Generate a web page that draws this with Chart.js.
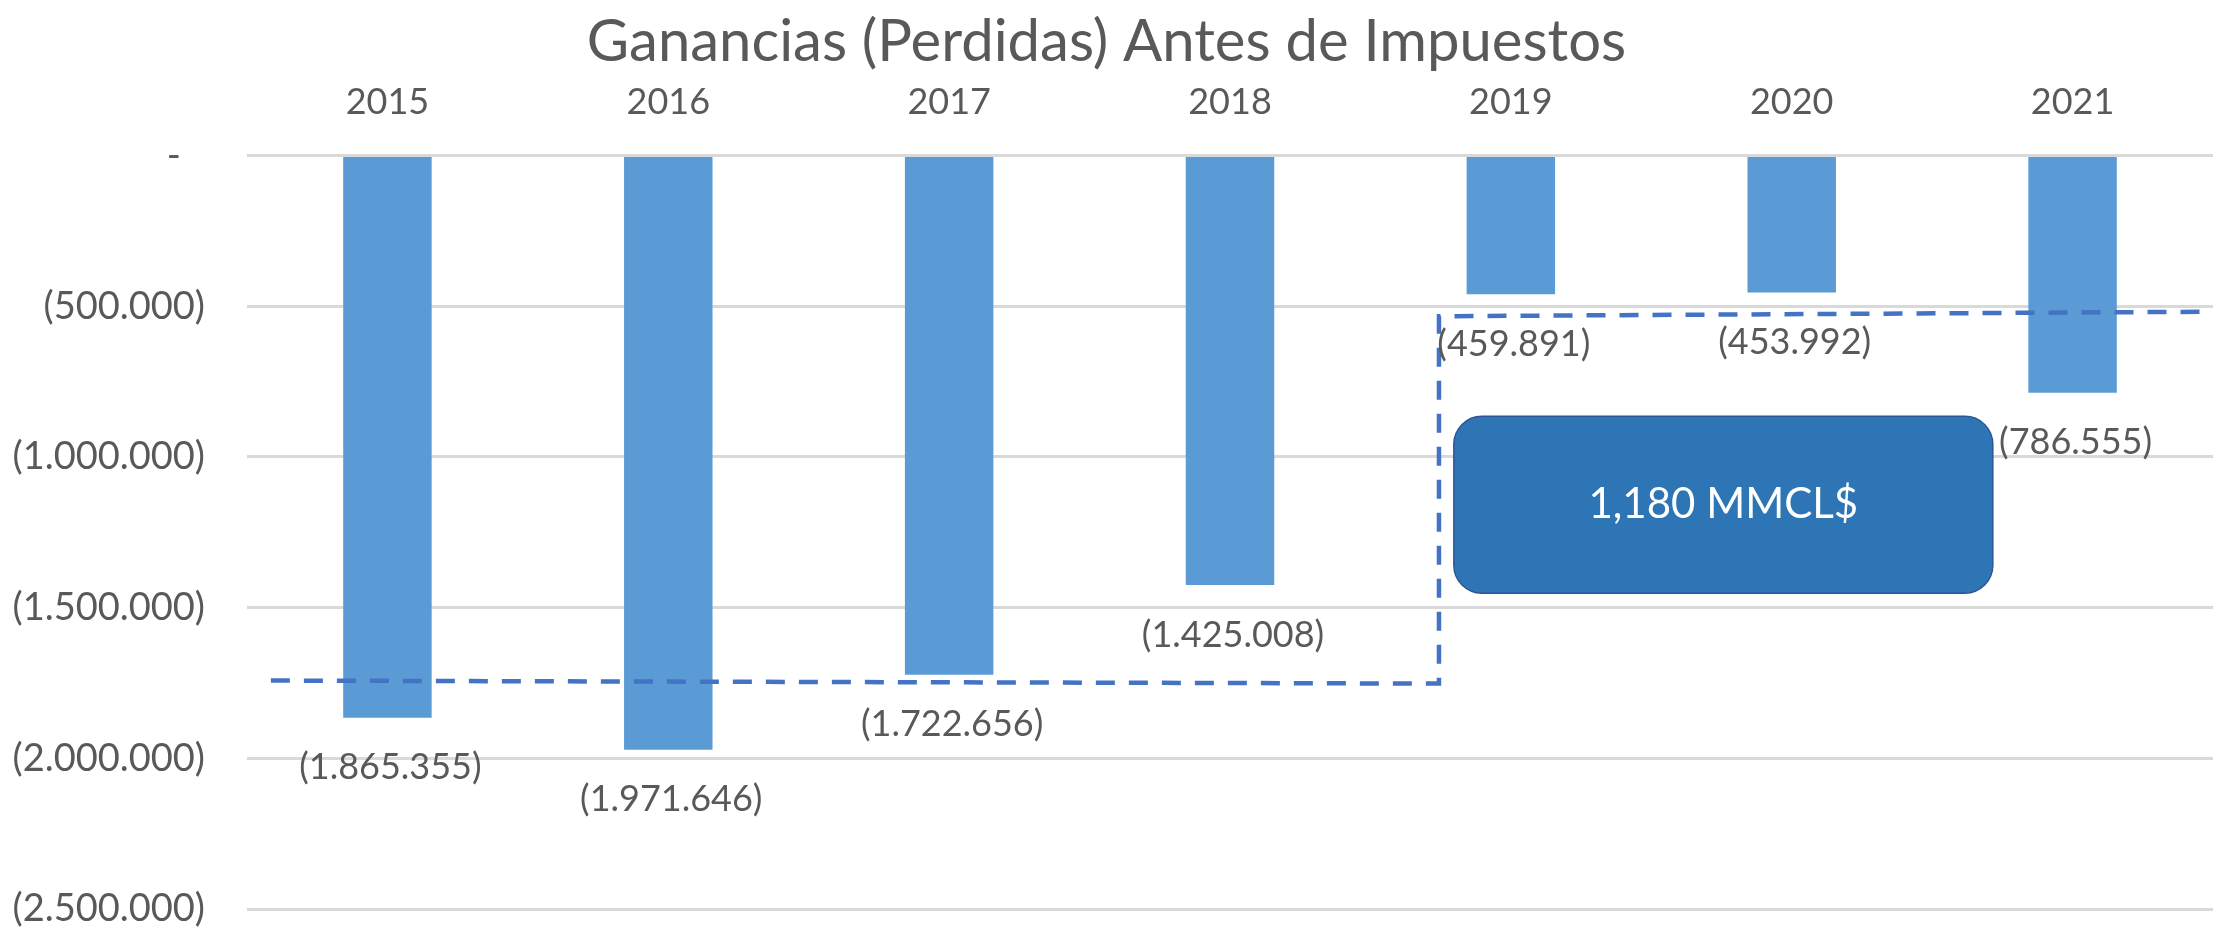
<!DOCTYPE html>
<html>
<head>
<meta charset="utf-8">
<script src="https://cdn.jsdelivr.net/npm/chart.js@4.4.1/dist/chart.umd.min.js"></script>
<style>
  html, body { margin: 0; padding: 0; background: #fff; }
  canvas { display: block; }
</style>
</head>
<body>
<canvas id="chartGanancias" width="2213" height="928"></canvas>
<script>
// datos
const anios = ["2015", "2016", "2017", "2018", "2019", "2020", "2021"];
const ganancias = [-1865355, -1971646, -1722656, -1425008, -459891, -453992, -786555];
const ticksY = [0, -500000, -1000000, -1500000, -2000000, -2500000];

// linea de promedios (posicion x en indice de categoria)
const promedioX = [-0.415, 3.744, 3.744, 6.5];
const promedioY = [-1742000, -1752000, -533000, -518000];

const textoCaja = "1,180 MMCL$";

const gris = "#595959";
const fuente = "Lato, 'Open Sans', sans-serif";

function formatoMiles(v) {
    if (v === 0) return "-  \u2009";
    const s = Math.abs(v).toString().replace(/\B(?=(\d{3})+(?!\d))/g, ".");
    return v < 0 ? "(" + s + ")" : s;
}

// etiquetas de datos bajo cada barra
const etiquetasBarras = {
    id: "etiquetasBarras",
    afterDatasetsDraw(chart) {
        const ctx = chart.ctx;
        const meta = chart.getDatasetMeta(1);
        ctx.save();
        ctx.font = "36px " + fuente;
        ctx.fillStyle = gris;
        ctx.textAlign = "center";
        ctx.textBaseline = "middle";
        meta.data.forEach((bar, i) => {
            ctx.fillText(formatoMiles(ganancias[i]), bar.x + 3, bar.y + 50);
        });
        ctx.restore();
    }
};

// cuadro con la diferencia
const cajaDiferencia = {
    id: "cajaDiferencia",
    afterDraw(chart) {
        const ctx = chart.ctx;
        const sx = chart.scales.x2, sy = chart.scales.y;
        const x1 = sx.getPixelForValue(3.797), x2 = sx.getPixelForValue(5.716);
        const y1 = sy.getPixelForValue(-865000), y2 = sy.getPixelForValue(-1452000);
        ctx.save();
        ctx.beginPath();
        ctx.roundRect(x1, y1, x2 - x1, y2 - y1, 28);
        ctx.fillStyle = "#2E75B6";
        ctx.fill();
        ctx.lineWidth = 1.5;
        ctx.strokeStyle = "#2F5597";
        ctx.stroke();
        ctx.font = "42px " + fuente;
        ctx.fillStyle = "#ffffff";
        ctx.textAlign = "center";
        ctx.textBaseline = "middle";
        ctx.fillText(textoCaja, (x1 + x2) / 2, (y1 + y2) / 2);
        ctx.restore();
    }
};

const ctx = document.getElementById("chartGanancias").getContext("2d");
new Chart(ctx, {
    type: "bar",
    data: {
        labels: anios,
        datasets: [
            {
                type: "line",
                label: "Promedio",
                xAxisID: "x2",
                data: promedioX.map((x, i) => ({ x: x, y: promedioY[i] })),
                borderColor: "#4472C4",
                borderWidth: 4.5,
                borderDash: [19, 14],
                pointRadius: 0,
                fill: false,
                tension: 0,
                order: 0
            },
            {
                type: "bar",
                label: "Ganancias (Perdidas) Antes de Impuestos",
                data: ganancias,
                backgroundColor: "#5B9BD5",
                grouped: false,
                categoryPercentage: 1,
                barPercentage: 0.315,
                order: 1
            }
        ]
    },
    plugins: [etiquetasBarras, cajaDiferencia],
    options: {
        responsive: false,
        animation: false,
        layout: { padding: { top: 0, right: 0, bottom: 19, left: 0 } },
        plugins: {
            legend: { display: false },
            tooltip: { enabled: false },
            title: {
                display: true,
                text: "Ganancias (Perdidas) Antes de Impuestos",
                color: gris,
                font: { family: fuente, size: 58, weight: "normal", lineHeight: 1.2 },
                padding: { top: 7, bottom: 0 }
            }
        },
        scales: {
            x: {
                type: "category",
                position: "top",
                offset: true,
                grid: { display: false, drawTicks: false },
                border: { display: false },
                ticks: { color: gris, font: { family: fuente, size: 36 }, padding: 32 },
                afterFit: (scale) => { scale.height = 79; }
            },
            x2: {
                type: "linear",
                display: false,
                offset: false,
                beginAtZero: false,
                min: -0.5,
                max: 6.5
            },
            y: {
                min: -2500000,
                max: 0,
                afterBuildTicks: (scale) => { scale.ticks = ticksY.map(v => ({ value: v })); },
                grid: { color: "#D9D9D9", lineWidth: 3, drawTicks: false },
                border: { display: false },
                ticks: {
                    color: gris,
                    font: { family: fuente, size: 38 },
                    padding: 42,
                    callback: (v) => formatoMiles(v)
                },
                afterFit: (scale) => {
                    scale.width = 247;
                    scale.paddingTop = 0;
                    scale.paddingBottom = 0;
                }
            }
        }
    }
});
</script>
</body>
</html>
